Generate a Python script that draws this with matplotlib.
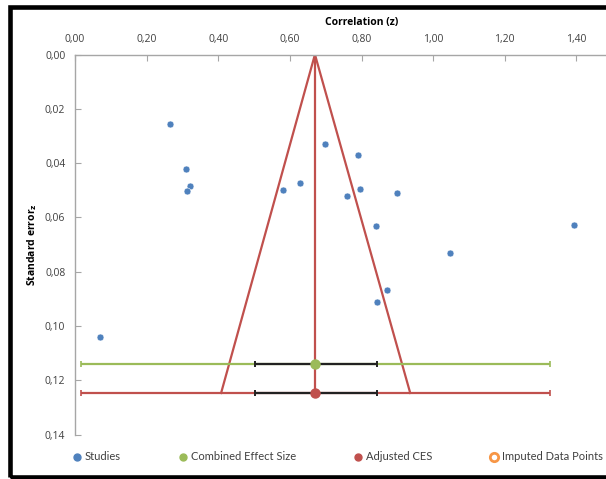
import matplotlib.pyplot as plt
from matplotlib.ticker import FuncFormatter, MultipleLocator
from matplotlib.patches import Rectangle
from matplotlib.lines import Line2D

# study effect sizes (z) and their standard errors
study_z = [0.266, 0.310, 0.322, 0.312, 0.580, 0.627, 0.699, 0.070, 0.789, 0.797,
           0.760, 0.899, 0.840, 1.047, 1.392, 0.872, 0.842]
study_se = [0.0255, 0.0423, 0.0483, 0.0503, 0.0500, 0.0473, 0.0328, 0.1039, 0.0371, 0.0495,
            0.0520, 0.0512, 0.0633, 0.0733, 0.0627, 0.0866, 0.0912]

# combined effect size and adjusted CES
ces_z = 0.671
ces_y = 0.1142
ces_ci = [0.503, 0.843]
ces_pi = [0.016, 1.327]
adj_z = 0.671
adj_y = 0.1247
adj_ci = [0.503, 0.843]
adj_pi = [0.016, 1.327]

# funnel outline
funnel_x = [0.408, 0.670, 0.936]
funnel_y = [0.1247, 0.0, 0.1247]

x_ticks = [0.0, 0.2, 0.4, 0.6, 0.8, 1.0, 1.2, 1.4]

blue = '#4F81BD'
green = '#9BBB59'
red = '#C0504D'
orange = '#F79646'
axis_gray = '#A6A6A6'

plt.rcParams['font.family'] = ['Open Sans', 'DejaVu Sans']

fig = plt.figure(figsize=(6.06, 4.79), dpi=100)
ax = fig.add_axes([75 / 606, 1 - 434.5 / 479, 573 / 606, 380 / 479])

# funnel + adjusted centre line
ax.plot(funnel_x, funnel_y, color=red, lw=1.6, zorder=2)
ax.plot([adj_z, adj_z], [0, adj_y], color=red, lw=1.6, zorder=2)

# long interval lines
ax.errorbar(ces_z, ces_y, xerr=[[ces_z - ces_pi[0]], [ces_pi[1] - ces_z]], fmt='none',
            ecolor=green, elinewidth=1.6, capsize=2.5, capthick=1.2, zorder=3)
ax.errorbar(adj_z, adj_y, xerr=[[adj_z - adj_pi[0]], [adj_pi[1] - adj_z]], fmt='none',
            ecolor=red, elinewidth=1.6, capsize=2.5, capthick=1.2, zorder=3)
# confidence intervals
ax.errorbar(ces_z, ces_y, xerr=[[ces_z - ces_ci[0]], [ces_ci[1] - ces_z]], fmt='none',
            ecolor='#222222', elinewidth=1.6, capsize=2.5, capthick=1.4, zorder=4)
ax.errorbar(adj_z, adj_y, xerr=[[adj_z - adj_ci[0]], [adj_ci[1] - adj_z]], fmt='none',
            ecolor='#222222', elinewidth=1.6, capsize=2.5, capthick=1.4, zorder=4)

ax.plot(study_z, study_se, 'o', color=blue, ms=5, mec='white', mew=0.4, zorder=5)
ax.plot(ces_z, ces_y, 'o', color=green, ms=6.5, zorder=6)
ax.plot(adj_z, adj_y, 'o', color=red, ms=6.5, zorder=6)

ax.set_xlim(0, 1.6)
ax.set_ylim(0.14, 0)
ax.set_xticks(x_ticks)
ax.yaxis.set_major_locator(MultipleLocator(0.02))
fmt = FuncFormatter(lambda v, p: '{:.2f}'.format(v).replace('.', ','))
ax.xaxis.set_major_formatter(fmt)
ax.yaxis.set_major_formatter(fmt)
ax.xaxis.tick_top()
ax.xaxis.set_label_position('top')
ax.tick_params(direction='in', length=4, width=0.8, color=axis_gray,
               labelsize=7.5, labelcolor='#404040', pad=7)
for s in ['bottom', 'right']:
    ax.spines[s].set_visible(False)
for s in ['left', 'top']:
    ax.spines[s].set_color(axis_gray)
    ax.spines[s].set_linewidth(1)

ax.set_xlabel('Correlation (z)', fontsize=7.5, fontweight='bold', labelpad=6)
ax.set_ylabel(r'Standard error$_\mathbf{z}$', fontsize=7.5, fontweight='bold', labelpad=4)

handles = [
    Line2D([], [], ls='none', marker='o', color=blue, ms=5),
    Line2D([], [], ls='none', marker='o', color=green, ms=5),
    Line2D([], [], ls='none', marker='o', color=red, ms=5),
    Line2D([], [], ls='none', marker='o', mfc='white', mec=orange, mew=2, ms=6),
]
labels = ['Studies', 'Combined Effect Size', 'Adjusted CES', 'Imputed Data Points']
fig.legend(handles, labels, loc='center left', bbox_to_anchor=(73 / 606, 1 - 457 / 479),
           ncol=4, frameon=False, prop={'family': 'Lato', 'size': 8.0},
           handlelength=0.8, handletextpad=0.28,
           columnspacing=5.2, borderaxespad=0, borderpad=0, labelcolor='#404040')

# outer chart border
fig.patches.append(Rectangle((10.3 / 606, 1 - 477 / 479), 1.2, (477 - 6.5) / 479,
                             transform=fig.transFigure, fill=False, ec='black', lw=3.3))

fig.savefig('out.png', dpi=100)
